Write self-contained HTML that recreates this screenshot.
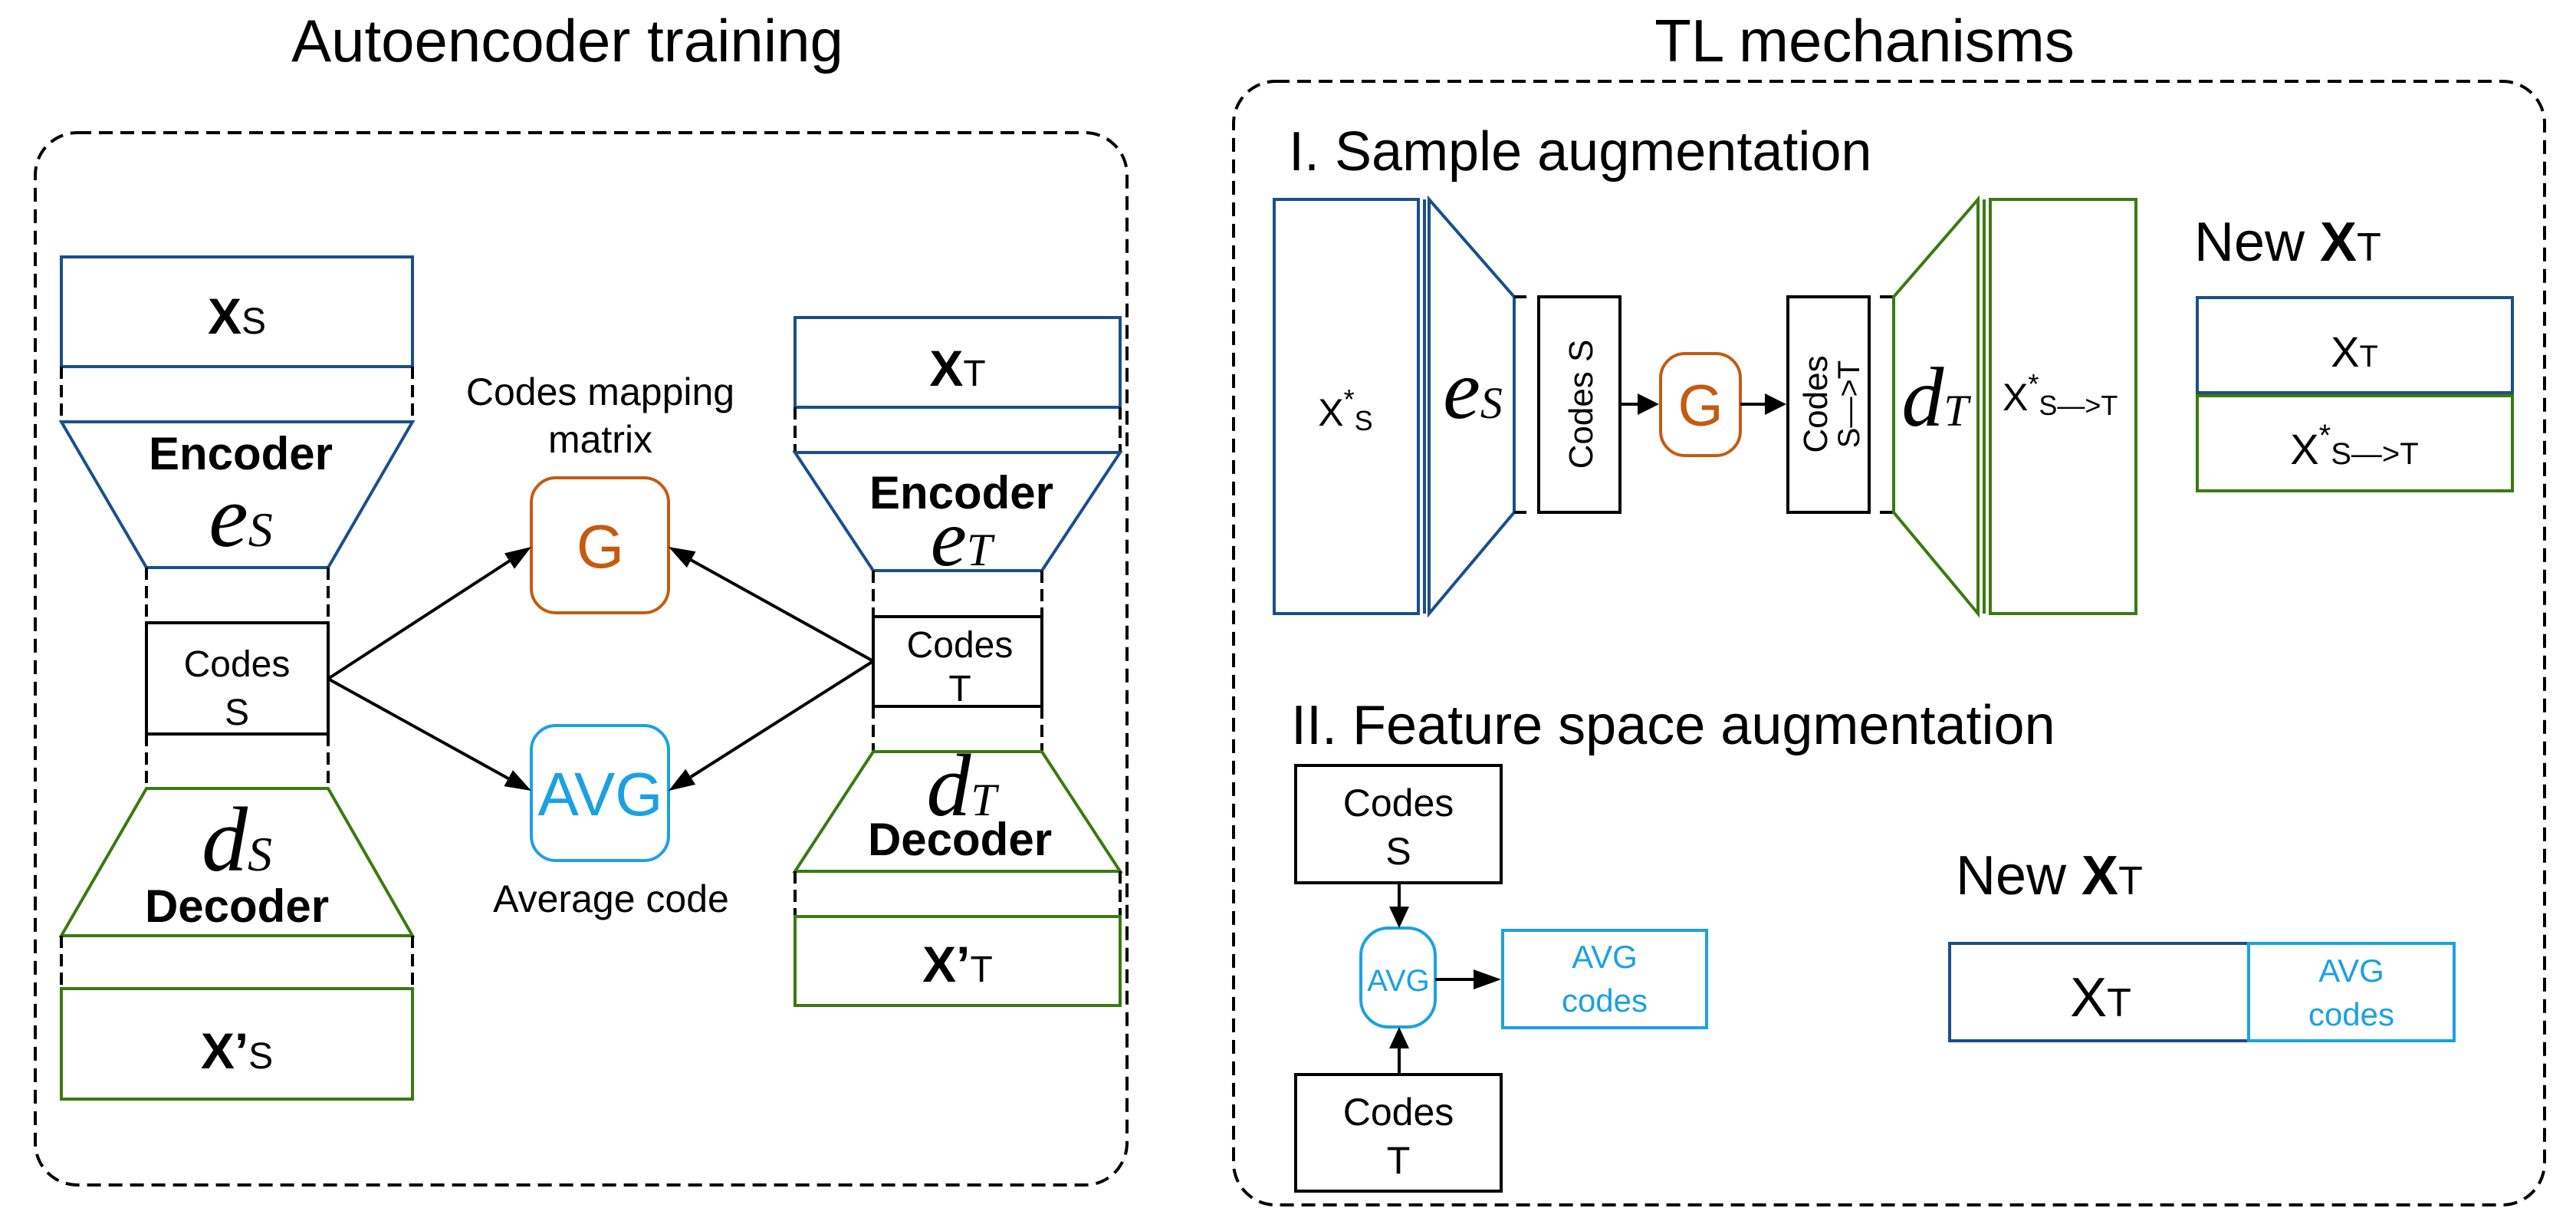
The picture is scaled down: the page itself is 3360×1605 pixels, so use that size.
<!DOCTYPE html>
<html><head><meta charset="utf-8"><style>
html,body{margin:0;padding:0;background:#fff}
svg{display:block}
text{font-family:"Liberation Sans",sans-serif}
.s{font-family:"Liberation Serif",serif;font-style:italic}
</style></head><body>
<svg width="3360" height="1605" viewBox="0 0 3360 1605" xmlns="http://www.w3.org/2000/svg">
<text x="740" y="80" font-size="78" text-anchor="middle">Autoencoder training</text>
<text x="2432" y="80" font-size="78" text-anchor="middle">TL mechanisms</text>

<rect x="46" y="173" width="1424" height="1372" rx="55" fill="none" stroke="#000" stroke-width="4" stroke-dasharray="18 10"/>
<rect x="1609" y="106" width="1710" height="1465" rx="55" fill="none" stroke="#000" stroke-width="4" stroke-dasharray="18 10"/>

<g fill="none" stroke-width="4">
<rect x="80" y="335" width="458" height="143" stroke="#1a4f8b"/>
<line x1="80" y1="478" x2="80" y2="550" stroke="#000" stroke-dasharray="16 8"/>
<line x1="538" y1="478" x2="538" y2="550" stroke="#000" stroke-dasharray="16 8"/>
<polygon points="80,550 538,550 428,740 191,740" stroke="#1a4f8b"/>
<line x1="191" y1="740" x2="191" y2="812" stroke="#000" stroke-dasharray="16 8"/>
<line x1="428" y1="740" x2="428" y2="812" stroke="#000" stroke-dasharray="16 8"/>
<rect x="191" y="812" width="237" height="145" stroke="#000"/>
<line x1="191" y1="957" x2="191" y2="1028" stroke="#000" stroke-dasharray="16 8"/>
<line x1="428" y1="957" x2="428" y2="1028" stroke="#000" stroke-dasharray="16 8"/>
<polygon points="191,1028 428,1028 538,1220 80,1220" stroke="#3a7a10"/>
<line x1="80" y1="1220" x2="80" y2="1289" stroke="#000" stroke-dasharray="16 8"/>
<line x1="538" y1="1220" x2="538" y2="1289" stroke="#000" stroke-dasharray="16 8"/>
<rect x="80" y="1289" width="458" height="144" stroke="#3a7a10"/>

<rect x="1037" y="414" width="424" height="117" stroke="#1a4f8b"/>
<line x1="1037" y1="531" x2="1037" y2="590" stroke="#000" stroke-dasharray="16 8"/>
<line x1="1461" y1="531" x2="1461" y2="590" stroke="#000" stroke-dasharray="16 8"/>
<polygon points="1037,590 1461,590 1359,744 1139,744" stroke="#1a4f8b"/>
<line x1="1139" y1="744" x2="1139" y2="804" stroke="#000" stroke-dasharray="16 8"/>
<line x1="1359" y1="744" x2="1359" y2="804" stroke="#000" stroke-dasharray="16 8"/>
<rect x="1139" y="804" width="220" height="117" stroke="#000"/>
<line x1="1139" y1="921" x2="1139" y2="980" stroke="#000" stroke-dasharray="16 8"/>
<line x1="1359" y1="921" x2="1359" y2="980" stroke="#000" stroke-dasharray="16 8"/>
<polygon points="1139,980 1359,980 1461,1136 1037,1136" stroke="#3a7a10"/>
<line x1="1037" y1="1136" x2="1037" y2="1195" stroke="#000" stroke-dasharray="16 8"/>
<line x1="1461" y1="1136" x2="1461" y2="1195" stroke="#000" stroke-dasharray="16 8"/>
<rect x="1037" y="1195" width="424" height="116" stroke="#3a7a10"/>

<rect x="693" y="623" width="179" height="176" rx="32" stroke="#c55a11"/>
<rect x="693" y="946" width="179" height="176" rx="32" stroke="#1ba1e2"/>

<g stroke="#000">
<line x1="428" y1="885" x2="665" y2="731"/>
<line x1="428" y1="885" x2="663" y2="1015"/>
<line x1="1139" y1="862" x2="901" y2="730"/>
<line x1="1139" y1="862" x2="901" y2="1013"/>
</g>
</g>
<g fill="#000">
<polygon points="693,713 671,741.6 658,721.4"/>
<polygon points="693,1031 657.4,1025.1 669,1004.1"/>
<polygon points="872,713 907.5,719.1 895.9,740.1"/>
<polygon points="872,1031 894.3,1002.7 907.1,1022.9"/>
</g>

<text x="309" y="435" font-size="66" text-anchor="middle"><tspan font-weight="bold">X</tspan><tspan font-size="48">S</tspan></text>
<text x="314" y="612" font-size="60" font-weight="bold" text-anchor="middle">Encoder</text>
<text x="314" y="712" font-size="116" text-anchor="middle" class="s">e<tspan font-size="64">S</tspan></text>
<text x="309" y="882" font-size="48" text-anchor="middle">Codes</text>
<text x="309" y="945" font-size="48" text-anchor="middle">S</text>
<text x="309" y="1135" font-size="120" text-anchor="middle" class="s">d<tspan font-size="64">S</tspan></text>
<text x="309" y="1202" font-size="60" font-weight="bold" text-anchor="middle">Decoder</text>
<text x="309" y="1393" font-size="66" text-anchor="middle"><tspan font-weight="bold">X’</tspan><tspan font-size="48">S</tspan></text>

<text x="1249" y="503" font-size="66" text-anchor="middle"><tspan font-weight="bold">X</tspan><tspan font-size="48">T</tspan></text>
<text x="1254" y="663" font-size="60" font-weight="bold" text-anchor="middle">Encoder</text>
<text x="1254" y="737" font-size="106" text-anchor="middle" class="s">e<tspan font-size="60">T</tspan></text>
<text x="1252" y="857" font-size="48" text-anchor="middle">Codes</text>
<text x="1252" y="914" font-size="48" text-anchor="middle">T</text>
<text x="1254" y="1063" font-size="116" text-anchor="middle" class="s">d<tspan font-size="60">T</tspan></text>
<text x="1252" y="1115" font-size="60" font-weight="bold" text-anchor="middle">Decoder</text>
<text x="1249" y="1280" font-size="66" text-anchor="middle"><tspan font-weight="bold">X’</tspan><tspan font-size="48">T</tspan></text>

<text x="783" y="528" font-size="50" text-anchor="middle">Codes mapping</text>
<text x="783" y="590" font-size="50" text-anchor="middle">matrix</text>
<text x="783" y="740" font-size="80" fill="#c55a11" text-anchor="middle">G</text>
<text x="783" y="1063" font-size="80" fill="#1ba1e2" text-anchor="middle">AVG</text>
<text x="797" y="1189" font-size="50" text-anchor="middle">Average code</text>

<text x="1681" y="222" font-size="72">I. Sample augmentation</text>
<g fill="none" stroke-width="4">
<rect x="1662" y="260" width="188" height="540" stroke="#1a4f8b"/>
<line x1="1858" y1="260" x2="1858" y2="800" stroke="#1a4f8b"/>
<polygon points="1864,260 1975,387 1975,668 1864,800" stroke="#1a4f8b"/>
<line x1="1975" y1="387" x2="1991" y2="387" stroke="#000"/>
<line x1="1975" y1="668" x2="1991" y2="668" stroke="#000"/>
<rect x="2007" y="387" width="106" height="281" stroke="#000"/>
<rect x="2166" y="461" width="104" height="133" rx="32" stroke="#c55a11"/>
<rect x="2332" y="387" width="106" height="281" stroke="#000"/>
<line x1="2452" y1="387" x2="2470" y2="387" stroke="#000"/>
<line x1="2452" y1="668" x2="2470" y2="668" stroke="#000"/>
<polygon points="2470,387 2580,260 2580,800 2470,668" stroke="#3a7a10"/>
<line x1="2588" y1="260" x2="2588" y2="800" stroke="#3a7a10"/>
<rect x="2596" y="260" width="190" height="540" stroke="#3a7a10"/>
<rect x="2866" y="388" width="411" height="124" stroke="#1a4f8b"/>
<rect x="2866" y="516" width="411" height="124" stroke="#3a7a10"/>
<line x1="2113" y1="527" x2="2140" y2="527" stroke="#000"/>
<line x1="2270" y1="527" x2="2305" y2="527" stroke="#000"/>

<rect x="1690" y="998" width="268" height="153" stroke="#000"/>
<rect x="1690" y="1401" width="268" height="152" stroke="#000"/>
<rect x="1775" y="1210" width="97" height="129" rx="36" stroke="#1ba1e2"/>
<rect x="1960" y="1213" width="266" height="127" stroke="#1ba1e2"/>
<line x1="1825" y1="1151" x2="1825" y2="1185" stroke="#000"/>
<line x1="1825" y1="1401" x2="1825" y2="1365" stroke="#000"/>
<line x1="1872" y1="1277" x2="1925" y2="1277" stroke="#000"/>
<rect x="2543" y="1230" width="390" height="127" stroke="#1a4f8b"/>
<rect x="2933" y="1230" width="268" height="127" stroke="#1ba1e2"/>
</g>
<g fill="#000">
<polygon points="2164,527 2136,513 2136,541"/>
<polygon points="2330,527 2302,513 2302,541"/>
<polygon points="1825,1210 1812,1182 1838,1182"/>
<polygon points="1825,1339 1812,1367 1838,1367"/>
<polygon points="1958,1277 1922,1264 1922,1290"/>
</g>
<text x="1755" y="555" font-size="50" text-anchor="middle">X<tspan font-size="36" dy="-22">*</tspan><tspan font-size="36" dy="28">S</tspan></text>
<text x="1921" y="545" font-size="110" text-anchor="middle" class="s">e<tspan font-size="58">S</tspan></text>
<text transform="translate(2077,527) rotate(-90)" font-size="44" text-anchor="middle">Codes S</text>
<text x="2218" y="555" font-size="76" fill="#c55a11" text-anchor="middle">G</text>
<text transform="translate(2383,527) rotate(-90)" font-size="44" text-anchor="middle">Codes</text>
<text transform="translate(2425,527) rotate(-90)" font-size="40" text-anchor="middle">S—&gt;T</text>
<text x="2524" y="555" font-size="110" text-anchor="middle" class="s">d<tspan font-size="58">T</tspan></text>
<text x="2612" y="535" font-size="50">X<tspan font-size="36" dy="-22">*</tspan><tspan font-size="36" dy="28">S—&gt;T</tspan></text>
<text x="2862" y="340" font-size="72">New <tspan font-weight="bold">X</tspan><tspan font-size="52">T</tspan></text>
<text x="3071" y="478" font-size="56" text-anchor="middle">X<tspan font-size="40">T</tspan></text>
<text x="3071" y="605" font-size="56" text-anchor="middle">X<tspan font-size="40" dy="-24">*</tspan><tspan font-size="40" dy="24">S—&gt;T</tspan></text>

<text x="1684" y="970" font-size="72">II. Feature space augmentation</text>
<text x="1824" y="1064" font-size="50" text-anchor="middle">Codes</text>
<text x="1824" y="1127" font-size="50" text-anchor="middle">S</text>
<text x="1824" y="1467" font-size="50" text-anchor="middle">Codes</text>
<text x="1824" y="1530" font-size="50" text-anchor="middle">T</text>
<text x="1824" y="1292" font-size="40" fill="#1ba1e2" text-anchor="middle">AVG</text>
<text x="2093" y="1262" font-size="42" fill="#1ba1e2" text-anchor="middle">AVG</text>
<text x="2093" y="1319" font-size="42" fill="#1ba1e2" text-anchor="middle">codes</text>
<text x="2551" y="1166" font-size="72">New <tspan font-weight="bold">X</tspan><tspan font-size="52">T</tspan></text>
<text x="2740" y="1325" font-size="72" text-anchor="middle">X<tspan font-size="52">T</tspan></text>
<text x="3067" y="1280" font-size="42" fill="#1ba1e2" text-anchor="middle">AVG</text>
<text x="3067" y="1337" font-size="42" fill="#1ba1e2" text-anchor="middle">codes</text>
</svg>
</body></html>
